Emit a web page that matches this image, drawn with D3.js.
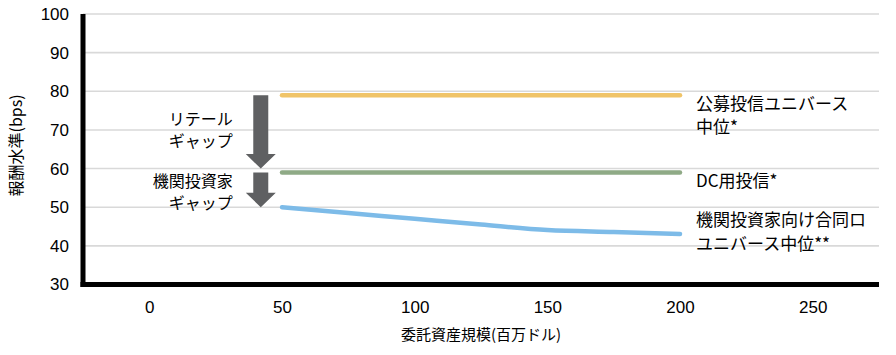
<!DOCTYPE html>
<html><head><meta charset="utf-8">
<script src="https://cdn.jsdelivr.net/npm/d3@7"></script>
<style>body{margin:0;background:#fff}svg{display:block}</style>
</head><body>
<svg id="c" width="896" height="355"></svg>
<script>
// ---- data ----
const xTicks = [0, 50, 100, 150, 200, 250];
const yTicks = [30, 40, 50, 60, 70, 80, 90, 100];
const sizes = [50, 75, 100, 125, 150, 175, 200];
const retailMedian = [79, 79, 79, 79, 79, 79, 79];
const dcFunds = [59, 59, 59, 59, 59, 59, 59];
const instMedian = [50, 48.5, 47, 45.5, 44.1, 43.6, 43.1];
const seriesNames = [["公募投信ユニバース", "中位*"], ["DC用投信*"], ["機関投資家向け合同ロ", "ユニバース中位**"]];
const gapLabels = [["リテール", "ギャップ"], ["機関投資家", "ギャップ"]];
const gaps = [{x: 42, from: 79, to: 60}, {x: 42, from: 59, to: 50}];
const xTitle = "委託資産規模(百万ドル)";
const yTitle = "報酬水準(bps)";

const colors = ["#F0C468", "#8FAA86", "#7DBBE8"];
const labelOffsets = [14.5, 14.5, -7.5];
const gapOffsets = [-7, -2.5];
const svg = d3.select("#c");
const x = d3.scaleLinear().domain([-25, 275]).range([83, 879]);
const y = d3.scaleLinear().domain([30, 100]).range([284.5, 14]);
const latin = "'Liberation Sans', Arial, sans-serif";
const cjk = "'Noto Sans CJK JP', sans-serif";

// gridlines
svg.append("g").selectAll("line").data(yTicks.filter(d => d > 30)).join("line")
  .attr("x1", x(-25)).attr("x2", x(275))
  .attr("y1", d => y(d)).attr("y2", d => y(d))
  .attr("stroke", "#d9d9d9").attr("stroke-width", 1.6);

// y axis
const ya = svg.append("g").attr("transform", `translate(${x(-25)},0)`)
  .call(d3.axisLeft(y).tickValues(yTicks).tickSize(0).tickPadding(14).tickFormat(d3.format("d")));
ya.select(".domain").remove();
ya.selectAll("text").attr("font-family", latin).attr("font-size", 17).attr("fill", "#000");

// x axis
const xa = svg.append("g").attr("transform", `translate(0,${y(30)})`)
  .call(d3.axisBottom(x).tickValues(xTicks).tickSize(0).tickPadding(16).tickFormat(d3.format("d")));
xa.select(".domain").remove();
xa.selectAll("text").attr("font-family", latin).attr("font-size", 17).attr("fill", "#000");

// axis lines
svg.append("line").attr("x1", x(-25)).attr("x2", x(-25)).attr("y1", y(100)).attr("y2", y(30) + 2.5)
  .attr("stroke", "#000").attr("stroke-width", 5);
svg.append("line").attr("x1", x(-25) - 2.5).attr("x2", x(275)).attr("y1", y(30)).attr("y2", y(30))
  .attr("stroke", "#000").attr("stroke-width", 5);

// series
const series = [retailMedian, dcFunds, instMedian];
const line = d3.line().x((d, i) => x(sizes[i])).y(d => y(d)).curve(d3.curveMonotoneX);
series.forEach((s, k) => {
  svg.append("path").attr("d", line(s)).attr("fill", "none")
    .attr("stroke", colors[k]).attr("stroke-width", 4.5).attr("stroke-linecap", "round");
});

// series labels
series.forEach((s, k) => {
  const y0 = y(s[s.length - 1]) + labelOffsets[k];
  seriesNames[k].forEach((ln, j) => {
    svg.append("text").attr("font-family", cjk).attr("font-size", 17).attr("fill", "#000")
      .attr("x", x(200) + 16).attr("y", y0 + j * 23.5).text(ln);
  });
});

// gap arrows
const shaftW = 15, headW = 30, headL = 14.5;
gaps.forEach((g, k) => {
  const cx = x(g.x), top = y(g.from), tip = y(g.to), hs = tip - headL;
  const pts = [[cx - shaftW/2, top], [cx + shaftW/2, top], [cx + shaftW/2, hs], [cx + headW/2, hs],
    [cx, tip], [cx - headW/2, hs], [cx - shaftW/2, hs]];
  svg.append("polygon").attr("points", pts.map(p => p.join(",")).join(" ")).attr("fill", "#5f6062");
  const base = (top + tip) / 2 + gapOffsets[k];
  gapLabels[k].forEach((ln, j) => {
    svg.append("text").attr("font-family", cjk).attr("font-size", 16).attr("fill", "#000")
      .attr("text-anchor", "end").attr("x", cx - 28).attr("y", base + j * 22).text(ln);
  });
});

// axis titles
svg.append("text").attr("font-family", cjk).attr("font-size", 15).attr("fill", "#000")
  .attr("text-anchor", "middle").attr("x", x(125)).attr("y", 340).text(xTitle);
svg.append("text").attr("font-family", cjk).attr("font-size", 16).attr("fill", "#000")
  .attr("text-anchor", "middle").attr("transform", `translate(22,${y(66)}) rotate(-90)`).text(yTitle);
</script>
</body></html>
